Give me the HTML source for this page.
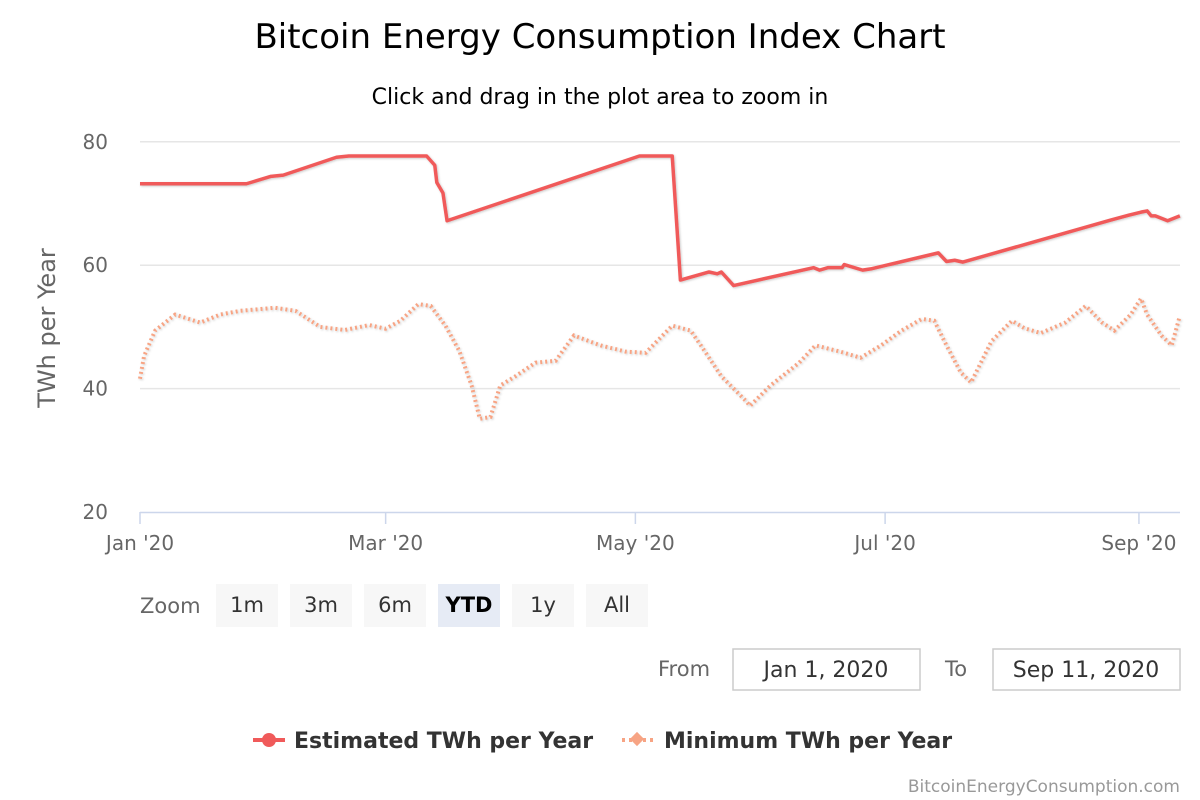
<!DOCTYPE html>
<html><head><meta charset="utf-8"><style>
body{margin:0;background:#fff;font-family:"Liberation Sans","DejaVu Sans",sans-serif}
svg{display:block}
</style></head><body>
<svg width="1200" height="800" font-family="DejaVu Sans, Liberation Sans, sans-serif">
<defs><filter id="sh" x="-5%" y="-5%" width="110%" height="120%"><feDropShadow dx="1" dy="1" stdDeviation="1" flood-color="#000" flood-opacity="0.2"/></filter></defs>
<text x="600" y="48" text-anchor="middle" font-size="34" fill="#000">Bitcoin Energy Consumption Index Chart</text>
<text x="600" y="104" text-anchor="middle" font-size="22" fill="#000">Click and drag in the plot area to zoom in</text>
<g id="grid"></g>
<g id="yt"></g>
<g id="xt"></g>
<text transform="translate(55,328) rotate(-90)" text-anchor="middle" font-size="24" fill="#666">TWh per Year</text>
<rect x="140" y="135" width="1040" height="378" fill="transparent"/>
<g id="series"></g>
<text x="140" y="613" font-size="21" fill="#666">Zoom</text>
<g id="btns"></g>
<text x="658" y="676" font-size="21" fill="#666">From</text>
<rect x="733" y="649" width="187" height="41" fill="#fff" stroke="#ccc" stroke-width="1.5"/>
<text x="826" y="677" text-anchor="middle" font-size="22" fill="#333">Jan 1, 2020</text>
<text x="945" y="676" font-size="21" fill="#666">To</text>
<rect x="993" y="649" width="187" height="41" fill="#fff" stroke="#ccc" stroke-width="1.5"/>
<text x="1086" y="677" text-anchor="middle" font-size="22" fill="#333">Sep 11, 2020</text>
<g>
<line x1="253" y1="740" x2="285" y2="740" stroke="#f05a5a" stroke-width="4"/><circle cx="269" cy="740" r="7" fill="#f05a5a"/>
<text x="294" y="748" font-size="22" font-weight="bold" fill="#333">Estimated TWh per Year</text></g>
<g>
<line x1="622" y1="740" x2="654" y2="740" stroke="#f7a484" stroke-width="4" stroke-dasharray="3,4"/><rect x="632" y="734" width="10" height="10" transform="rotate(45 637 739)" fill="#f7a484"/>
<text x="664" y="748" font-size="22" font-weight="bold" fill="#333">Minimum TWh per Year</text></g>
<text x="1180" y="792" text-anchor="end" font-size="17" fill="#999">BitcoinEnergyConsumption.com</text>
</svg>
<script>
const yTicks=[20,40,60,80];
const xTickDays=[0,60,121,182,244];
const xTickLabels=["Jan '20","Mar '20","May '20","Jul '20","Sep '20"];
const estDays=[0,26,32,35,48,51,70,72,72.5,74,75,122,130,132,139,141,142,145,164.5,166,168,171.5,172,176.5,178.5,195,197,199,201,237,241.5,244.5,246,247,248,251,254];
const estVals=[73.2,73.2,74.4,74.6,77.5,77.7,77.7,76.2,73.4,71.7,67.2,77.7,77.7,57.6,58.9,58.6,58.9,56.7,59.6,59.2,59.6,59.6,60.1,59.2,59.4,62,60.6,60.8,60.5,67.3,68.1,68.6,68.8,68,68,67.2,68];
const minDays=[0,1,3.7,8.6,14.7,19.6,24.4,33,38,44,50,56,60,63.6,68,71,74.6,78,81,83,85.6,88,91.7,96.6,101.5,106,112.5,118.6,123.5,130,134.5,137,142,148,149,154,161,165,171,176,181,186,191,194,197,200.5,203,208,213,216,220,226,231,235,238,242,244.5,246,249.5,252,254];
const minVals=[41.6,45.3,49.4,52,50.7,52,52.6,53.1,52.6,50,49.5,50.3,49.7,51,53.7,53.4,50.2,46.1,40.5,35.1,35.4,40.5,42,44.2,44.5,48.6,47,46,45.8,50.2,49.4,47,42,38,37.2,40.5,44.2,47,46,45,47,49.4,51.3,51,47,42.6,41,47.7,51,49.8,49,50.7,53.4,50.7,49.4,52,54.6,52,48.6,47,51.8];
const X=d=>140+d*4.094, Y=v=>512-(v-20)*6.17;
const NS="http://www.w3.org/2000/svg";
function mk(t,a,p){const e=document.createElementNS(NS,t);for(const k in a)e.setAttribute(k,a[k]);p.appendChild(e);return e;}
const grid=document.getElementById('grid'),yt=document.getElementById('yt'),xt=document.getElementById('xt');
yTicks.forEach(v=>{
 if(v>20){const l=mk('line',{x1:140,x2:1180,y1:Y(v),y2:Y(v),stroke:'#e6e6e6','stroke-width':1.5},grid);
 
 }
 const t=mk('text',{x:108,y:Y(v)+7,'text-anchor':'end','font-size':20,fill:'#666'},yt);t.textContent=v;
 
 
});
const ax=mk('line',{x1:140,x2:1180,y1:512.5,y2:512.5,stroke:'#ccd6eb','stroke-width':1.5},xt);


xTickDays.forEach((d,i)=>{
 mk('line',{x1:X(d),x2:X(d),y1:512,y2:524,stroke:'#ccd6eb','stroke-width':1.5},xt);
 const t=mk('text',{x:X(d),y:550,'text-anchor':'middle','font-size':20,fill:'#666'},xt);t.textContent=xTickLabels[i];
 
 
});
const s=document.getElementById('series');
const p2=mk('polyline',{points:minDays.map((d,i)=>X(d)+','+Y(minVals[i])).join(' '),fill:'none',stroke:'#f7a484','stroke-width':4,'stroke-dasharray':'2,3',filter:'url(#sh)'},s);


const p1=mk('polyline',{points:estDays.map((d,i)=>X(d)+','+Y(estVals[i])).join(' '),fill:'none',stroke:'#f05a5a','stroke-width':3.5,'stroke-linejoin':'round',filter:'url(#sh)'},s);


const bl=["1m","3m","6m","YTD","1y","All"],bx=[216,290,364,438,512,586];
const b=document.getElementById('btns');
bl.forEach((l,i)=>{const g=mk('g',{},b);
 
 
 mk('rect',{x:bx[i],y:584,width:62,height:43,fill:l=="YTD"?'#e6ebf5':'#f7f7f7'},g);
 const t=mk('text',{x:bx[i]+31,y:612,'text-anchor':'middle','font-size':21,fill:l=="YTD"?'#000':'#333','font-weight':l=="YTD"?'bold':'normal'},g);t.textContent=l;});
</script>
</body></html>
